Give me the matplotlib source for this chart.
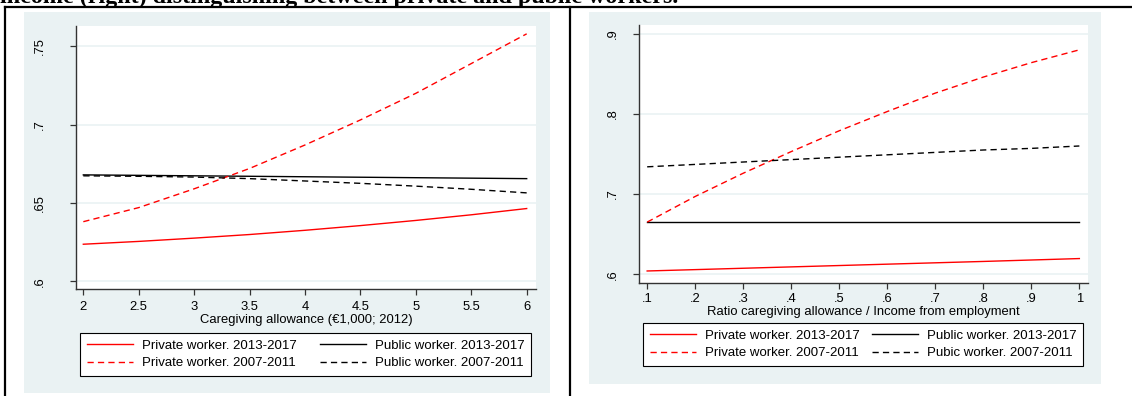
import matplotlib.pyplot as plt
from matplotlib.lines import Line2D
from matplotlib.patches import Rectangle

# predicted probabilities, left panel: caregiving allowance (EUR 1,000)
allowance = [2, 2.5, 3, 3.5, 4, 4.5, 5, 5.5, 6]
left_priv_1317 = [0.6236, 0.6254, 0.6275, 0.6298, 0.6325, 0.6355, 0.6388, 0.6424, 0.6464]
left_pub_1317 = [0.6679, 0.6676, 0.6673, 0.6670, 0.6667, 0.6664, 0.6661, 0.6658, 0.6655]
left_priv_0711 = [0.638, 0.647, 0.659, 0.672, 0.687, 0.703, 0.720, 0.739, 0.758]
left_pub_0711 = [0.6673, 0.6670, 0.6665, 0.6655, 0.6640, 0.6625, 0.6607, 0.6587, 0.6564]

# right panel: ratio allowance / income from employment
ratio = [0.1, 0.2, 0.3, 0.4, 0.5, 0.6, 0.7, 0.8, 0.9, 1.0]
right_priv_1317 = [0.604, 0.6057, 0.6074, 0.6091, 0.6108, 0.6125, 0.6142, 0.6159, 0.6177, 0.6195]
right_pub_1317 = [0.665, 0.665, 0.665, 0.665, 0.665, 0.665, 0.665, 0.665, 0.665, 0.665]
right_priv_0711 = [0.665, 0.697, 0.726, 0.753, 0.779, 0.803, 0.826, 0.846, 0.864, 0.880]
right_pub_0711 = [0.734, 0.737, 0.740, 0.743, 0.746, 0.749, 0.752, 0.755, 0.757, 0.760]

left_xticks = [2, 2.5, 3, 3.5, 4, 4.5, 5, 5.5, 6]
left_xlabels = ['2', '2.5', '3', '3.5', '4', '4.5', '5', '5.5', '6']
left_yticks = [0.6, 0.65, 0.7, 0.75]
left_ylabels = ['.6', '.65', '.7', '.75']
right_xticks = ratio
right_xlabels = ['.1', '.2', '.3', '.4', '.5', '.6', '.7', '.8', '.9', '1']
right_yticks = [0.6, 0.7, 0.8, 0.9]
right_ylabels = ['.6', '.7', '.8', '.9']

labels_left = ['Private worker. 2013-2017', 'Private worker. 2007-2011',
               'Public worker. 2013-2017', 'Public worker. 2007-2011']
labels_right = ['Private worker. 2013-2017', 'Private worker. 2007-2011',
                'Public worker. 2013-2017', 'Pubic worker. 2007-2011']

W, H = 1132, 396
BG = '#EAF2F3'
FS = 9.4
plt.rcParams['font.family'] = ['Liberation Sans', 'DejaVu Sans']

fig = plt.figure(figsize=(W / 100, H / 100), dpi=100)


def px_box(x0, y0, x1, y1):
    # pixel box (top-left origin) -> figure fraction [left, bottom, width, height]
    return [x0 / W, 1 - y1 / H, (x1 - x0) / W, (y1 - y0) / H]


# graph region backgrounds
for x0, y0, x1, y1 in [(24, 12, 550, 393), (589, 12, 1101, 384)]:
    b = px_box(x0, y0, x1, y1)
    fig.patches.append(Rectangle((b[0], b[1]), b[2], b[3], transform=fig.transFigure,
                                 facecolor=BG, edgecolor='none', zorder=-5))

# table borders
lw_tab = 1.6
fig.add_artist(Line2D([5 / W, 1], [1 - 6.5 / H, 1 - 6.5 / H], color='black', lw=lw_tab))
fig.add_artist(Line2D([5 / W, 5 / W], [0, 1 - 6.5 / H], color='black', lw=lw_tab))
fig.add_artist(Line2D([570 / W, 570 / W], [0, 1 - 6.5 / H], color='black', lw=lw_tab))

fig.text(0, 1 - 2.5 / H, 'income (right) distinguishing between private and public workers.',
         family='Liberation Serif', weight='bold', fontsize=17.3, va='baseline', ha='left')

DASH = (4.5, 3)


def style_axes(ax, xticks, xlabels, yticks, ylabels, xlabel, ypad, xpad, lpad):
    ax.set_facecolor('white')
    for s in ['top', 'right']:
        ax.spines[s].set_visible(False)
    for s in ['left', 'bottom']:
        ax.spines[s].set_color('#333333')
        ax.spines[s].set_linewidth(1.0)
    ax.set_xticks(xticks)
    ax.set_xticklabels(xlabels)
    ax.set_yticks(yticks)
    ax.set_yticklabels(ylabels, rotation=90, va='center')
    ax.tick_params(axis='both', direction='out', length=4, width=0.9, color='#333333',
                   labelsize=FS)
    ax.tick_params(axis='y', pad=ypad)
    ax.tick_params(axis='x', pad=xpad)
    ax.grid(axis='y', color=BG, lw=1.2)
    ax.set_axisbelow(True)
    ax.set_xlabel(xlabel, fontsize=FS, labelpad=lpad)


def add_legend(box, labels):
    handles = [Line2D([], [], color='red', lw=1.0),
               Line2D([], [], color='red', lw=1.0, dashes=DASH),
               Line2D([], [], color='black', lw=1.0),
               Line2D([], [], color='black', lw=1.0, dashes=DASH)]
    b = px_box(*box)
    leg = fig.legend(handles, labels, ncol=2, loc='lower left', mode='expand',
                     bbox_to_anchor=(b[0], b[1], b[2], b[3]), fontsize=9.5,
                     frameon=True, fancybox=False, edgecolor='black', framealpha=1,
                     borderaxespad=0, handlelength=3.5, handletextpad=0.68,
                     labelspacing=0.42, borderpad=0.5)
    leg.get_frame().set_linewidth(0.8)
    return leg


# left panel
ax1 = fig.add_axes(px_box(76, 26, 536, 289))
ax1.plot(allowance, left_priv_1317, color='red', lw=1.0)
ax1.plot(allowance, left_pub_1317, color='black', lw=1.0)
ax1.plot(allowance, left_priv_0711, color='red', lw=1.0, dashes=DASH)
ax1.plot(allowance, left_pub_0711, color='black', lw=1.0, dashes=DASH)
ax1.set_xlim(1.934, 6.084)
ax1.set_ylim(0.595, 0.763)
style_axes(ax1, left_xticks, left_xlabels, left_yticks, left_ylabels,
           'Caregiving allowance (€1,000; 2012)', ypad=17.5, xpad=5, lpad=0.5)
add_legend((80, 332, 531, 376), labels_left)

# right panel
ax2 = fig.add_axes(px_box(639, 25, 1088, 283))
ax2.plot(ratio, right_priv_1317, color='red', lw=1.0)
ax2.plot(ratio, right_pub_1317, color='black', lw=1.0)
ax2.plot(ratio, right_priv_0711, color='red', lw=1.0, dashes=DASH)
ax2.plot(ratio, right_pub_0711, color='black', lw=1.0, dashes=DASH)
ax2.set_xlim(0.083, 1.018)
ax2.set_ylim(0.589, 0.911)
style_axes(ax2, right_xticks, right_xlabels, right_yticks, right_ylabels,
           'Ratio caregiving allowance / Income from employment', ypad=10.5, xpad=3.5,
           lpad=0.5)
add_legend((643, 324, 1083, 366), labels_right)

fig.savefig('out.png', dpi=100)
